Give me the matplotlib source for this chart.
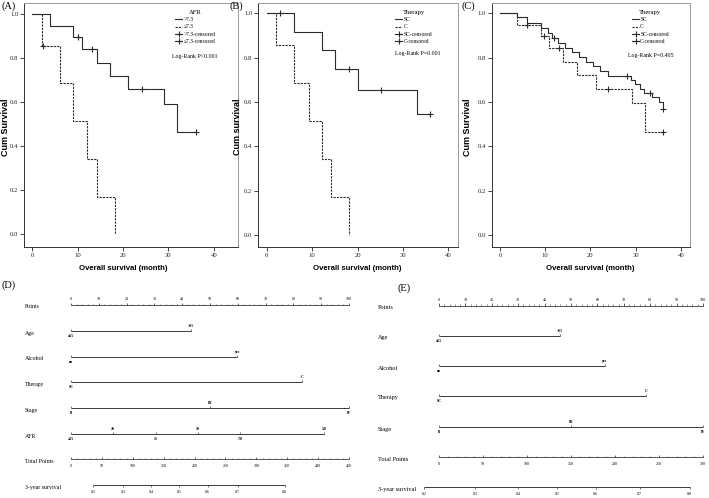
import numpy as np
import matplotlib
matplotlib.use("Agg")
import matplotlib.pyplot as plt
from matplotlib.lines import Line2D

W, H, DPI = 709, 498, 100

# ---------------- Kaplan-Meier data ----------------
month_ticks = [0, 10, 20, 30, 40]
surv_ticks = [0.0, 0.2, 0.4, 0.6, 0.8, 1.0]

# (A) AFR
A_hi_t = [0, 4.0, 9.0, 10.9, 14.2, 17.1, 21.2, 29.0, 31.9, 36.0]
A_hi_s = [1.0, 0.948, 0.895, 0.841, 0.780, 0.720, 0.659, 0.593, 0.466, 0.466]
A_hi_cens = [10.0, 13.1, 24.1, 36.0]
A_lo_t = [0, 2.2, 6.2, 9.0, 12.1, 14.2, 18.2]
A_lo_s = [1.0, 0.857, 0.686, 0.514, 0.343, 0.171, 0.0]
A_lo_cens = [2.3]
A_labels = [">7.3", "\u22647.3", ">7.3-censored", "\u22647.3-censored"]
A_title, A_p = "AFR", "Log-Rank P<0.001"

# (B) Therapy
B_sc_t = [0, 6.1, 12.1, 15.1, 20.0, 33.0, 36.0]
B_sc_s = [1.0, 0.917, 0.833, 0.750, 0.656, 0.547, 0.547]
B_sc_cens = [3.0, 18.1, 25.1, 36.0]
B_c_t = [0, 2.0, 5.9, 9.2, 12.1, 14.1, 18.1]
B_c_s = [1.0, 0.857, 0.686, 0.514, 0.343, 0.171, 0.0]
B_c_cens = []
B_labels = ["SC", "C", "SC-censored", "C-censored"]
B_title, B_p = "Therapy", "Log-Rank P=0.001"

# (C) Therapy
C_sc_t = [0, 3.8, 5.9, 9.0, 10.6, 11.6, 12.9, 14.4, 16.0, 17.5, 19.1, 20.6, 22.2,
          23.9, 28.9, 29.9, 30.9, 31.9, 33.7, 35.2, 36.0]
C_sc_s = [1.0, 0.985, 0.955, 0.932, 0.910, 0.887, 0.866, 0.845, 0.824, 0.803, 0.782,
          0.761, 0.740, 0.717, 0.700, 0.680, 0.660, 0.640, 0.620, 0.600, 0.568]
C_sc_cens = [12.0, 28.2, 33.1, 36.0]
C_c_t = [0, 3.8, 9.0, 10.9, 13.9, 17.1, 21.2, 29.2, 32.2, 36.0]
C_c_s = [1.0, 0.948, 0.895, 0.841, 0.780, 0.720, 0.659, 0.593, 0.466, 0.466]
C_c_cens = [6.0, 9.8, 13.1, 24.0, 36.0]
C_labels = ["SC", "C", "SC-censored", "C-censored"]
C_title, C_p = "Therapy", "Log-Rank P=0.405"

# ---------------- Nomogram data (points) ----------------
pts_ticks = list(range(0, 101, 10))
D_age_pts, D_age_lab = [0, 43.1], ["\u226465", ">65"]
D_alc_pts, D_alc_lab = [0, 59.8], ["no", "yes"]
D_ther_pts, D_ther_lab = [0, 83.2], ["SC", "C"]
D_stage_pts, D_stage_lab = [0, 49.9, 100], ["II", "III", "IV"]
D_afr_pts, D_afr_lab = [0, 15.2, 30.5, 45.6, 60.8, 91.1], ["\u226525", "20", "15", "10", "7.0", "5.0"]
D_total_max = 450
D_total_ticks = list(range(0, 451, 50))
D_surv_lab = ["0.2", "0.3", "0.4", "0.5", "0.6", "0.7", "0.8"]
D_surv_total = [36, 84, 130, 175, 221, 270, 346]

E_age_pts, E_age_lab = [0, 45.8], ["\u226465", ">65"]
E_alc_pts, E_alc_lab = [0, 62.8], ["no", "yes"]
E_ther_pts, E_ther_lab = [0, 78.3], ["SC", "C"]
E_stage_pts, E_stage_lab = [0, 49.9, 100], ["II", "III", "IV"]
E_total_max = 300
E_total_ticks = list(range(0, 301, 50))
E_surv_lab = ["0.2", "0.3", "0.4", "0.5", "0.6", "0.7", "0.8"]
E_surv_total = [-17, 41, 90, 134, 178, 228, 285]

# ---------------- figure ----------------
SERIF = "Liberation Serif"
SANS = "Liberation Sans"
LC = "#2b2b2b"
fig = plt.figure(figsize=(W / DPI, H / DPI), dpi=DPI)


def px_axes(l, r, t, b):
    return fig.add_axes([l / W, 1 - b / H, (r - l) / W, (b - t) / H])


def ftext(x, y, s, **kw):
    fig.text(x / W, 1 - y / H, s, **kw)


def km_curve(ax, t, s, cens, ls):
    t = np.asarray(t, float)
    s = np.asarray(s, float)
    ax.step(t, s, where="post", color=LC, lw=0.8, ls=ls)
    if len(cens):
        idx = np.searchsorted(t, cens, side="right") - 1
        ax.plot(cens, s[idx], ls="none", marker="+", ms=4, mew=0.8, color=LC)


def km_panel(box, xlim, ylim, curves, labels, title, ptxt, leg_xy, p_xy, letter, letter_x,
             ylab, ylab_x, xlab_x):
    ax = px_axes(*box)
    for (t, s, c, ls) in curves:
        km_curve(ax, t, s, c, ls)
    ax.set_xlim(*xlim)
    ax.set_ylim(*ylim)
    ax.set_xticks(month_ticks)
    ax.set_yticks(surv_ticks)
    ax.set_xticklabels([str(v) for v in month_ticks], family=SERIF, fontsize=4.8)
    ax.set_yticklabels(["%.1f" % v for v in surv_ticks], family=SERIF, fontsize=4.8)
    ax.tick_params(direction="out", length=3, width=0.6, pad=1, colors="#222222")
    for sp in ["left", "bottom"]:
        ax.spines[sp].set_color("#333333")
        ax.spines[sp].set_linewidth(0.7)
    for sp in ["top", "right"]:
        ax.spines[sp].set_color("#9a9a9a")
        ax.spines[sp].set_linewidth(0.7)
    handles = [Line2D([], [], color=LC, lw=0.8, ls="-"),
               Line2D([], [], color=LC, lw=0.8, ls=(0, (2, 1))),
               Line2D([], [], color=LC, lw=0.8, marker="+", ms=4, mew=0.8),
               Line2D([], [], color=LC, lw=0.8, marker="+", ms=4, mew=0.8)]
    ax.legend(handles, labels, title=title, loc="upper left", bbox_to_anchor=leg_xy,
              frameon=False, prop={"family": SERIF, "size": 4},
              title_fontproperties={"family": SERIF, "size": 4.8},
              handlelength=1.3, handletextpad=0.2, labelspacing=0.42,
              borderpad=0, borderaxespad=0)
    ax.text(p_xy[0], p_xy[1], ptxt, transform=ax.transAxes, ha="center", va="center",
            family=SERIF, fontsize=4.2)
    ftext(letter_x, 6, letter, family=SERIF, fontsize=7.5, ha="left", va="center")
    ftext(ylab_x, 127, ylab, family=SANS, fontweight="bold", fontsize=6.5,
          rotation=90, ha="center", va="center")
    ftext(xlab_x, 268, "Overall survival (month)", family=SANS, fontweight="bold",
          fontsize=5.6, ha="center", va="center")
    return ax


km_panel((24, 238, 3, 247), (-1.83, 45.36), (-0.0577, 1.0514),
         [(A_hi_t, A_hi_s, A_hi_cens, "-"), (A_lo_t, A_lo_s, A_lo_cens, (0, (2, 1)))],
         A_labels, A_title, A_p, (0.706, 0.972), (0.80, 0.779), "(A)", 1,
         "Cum Survival", 6, 123)
km_panel((258, 458, 3, 247), (-1.92, 42.1), (-0.054, 1.046),
         [(B_sc_t, B_sc_s, B_sc_cens, "-"), (B_c_t, B_c_s, B_c_cens, (0, (2, 1)))],
         B_labels, B_title, B_p, (0.685, 0.972), (0.80, 0.791), "(B)", 230,
         "Cum survival", 237, 357.5)
km_panel((491.7, 690, 3, 247), (-1.84, 42.06), (-0.054, 1.046),
         [(C_sc_t, C_sc_s, C_sc_cens, "-"), (C_c_t, C_c_s, C_c_cens, (0, (2, 1)))],
         C_labels, C_title, C_p, (0.707, 0.972), (0.80, 0.783), "(C)", 461,
         "Cum Survival", 467, 590.3)

# ---------------- Nomograms ----------------
NC = "#3a3a3a"


def nomogram(box, x0, x100, label_x, rows, total_max, total_ticks, surv_lab, surv_total,
             letter, letter_xy, fs_lab):
    ax = px_axes(*box)
    l, r, t, b = box
    scale = (x100 - x0) / 100.0
    ax.set_xlim((l - x0) / scale, (r - x0) / scale)
    ax.set_ylim(b, t)
    ax.axis("off")
    ftext(letter_xy[0], letter_xy[1], letter, family=SERIF, fontsize=7.5, ha="left", va="center")
    tfs = 2.9
    for row in rows:
        kind = row[0]
        name, y = row[1], row[2]
        ftext(label_x, y + 2, name, family=SERIF, fontsize=fs_lab, ha="left", va="center")
        if kind == "points":
            ax.hlines(y, 0, 100, color=NC, lw=0.6)
            ax.vlines(pts_ticks, y - 2.5, y, color=NC, lw=0.5)
            ax.vlines(np.arange(0, 101, 2), y - 1.3, y, color=NC, lw=0.4)
            for v in pts_ticks:
                ax.text(v, y - 6, str(v), ha="center", va="center", family=SERIF, fontsize=tfs)
        elif kind == "var":
            p, labs = row[3], row[4]
            ax.hlines(y, min(p), max(p), color=NC, lw=0.7)
            ax.vlines(p, y - 2, y, color=NC, lw=0.5)
            for i, (v, s) in enumerate(zip(p, labs)):
                above = (i % 2 == 1)
                ax.text(v, y - 5 if above else y + 4.5, s, ha="center", va="center",
                        family=SERIF, fontsize=tfs, fontweight="bold")
        elif kind == "total":
            conv = 100.0 / total_max
            ax.hlines(y, 0, 100, color=NC, lw=0.6)
            ax.vlines(np.array(total_ticks) * conv, y - 2.2, y, color=NC, lw=0.5)
            ax.vlines(np.arange(0, total_max + 1, 10) * conv, y - 1.3, y, color=NC, lw=0.4)
            for v in total_ticks:
                ax.text(v * conv, y + 7, str(v), ha="center", va="center", family=SERIF, fontsize=tfs)
        elif kind == "surv":
            conv = 100.0 / total_max
            xs = np.array(surv_total) * conv
            ax.hlines(y, xs.min(), xs.max(), color=NC, lw=0.7)
            ax.vlines(xs, y, y + 2, color=NC, lw=0.5)
            for v, s in zip(xs, surv_lab):
                ax.text(v, y + 7, s, ha="center", va="center", family=SERIF, fontsize=tfs)
    return ax


nomogram((0, 355, 275, 498), 71, 349, 25,
         [("points", "Points", 305),
          ("var", "Age", 331, D_age_pts, D_age_lab),
          ("var", "Alcohol", 357, D_alc_pts, D_alc_lab),
          ("var", "Therapy", 382, D_ther_pts, D_ther_lab),
          ("var", "Stage", 408, D_stage_pts, D_stage_lab),
          ("var", "AFR", 434, D_afr_pts, D_afr_lab),
          ("total", "Total Points", 459),
          ("surv", "3-year survival", 485)],
         D_total_max, D_total_ticks, D_surv_lab, D_surv_total, "(D)", (2, 285), 4.2)

nomogram((360, 709, 275, 498), 439, 703, 378,
         [("points", "Points", 305.5),
          ("var", "Age", 336, E_age_pts, E_age_lab),
          ("var", "Alcohol", 366, E_alc_pts, E_alc_lab),
          ("var", "Therapy", 396, E_ther_pts, E_ther_lab),
          ("var", "Stage", 427, E_stage_pts, E_stage_lab),
          ("total", "Total Points", 457),
          ("surv", "3-year survival", 487)],
         E_total_max, E_total_ticks, E_surv_lab, E_surv_total, "(E)", (397, 288), 4.5)

fig.savefig("out.png", dpi=DPI)
